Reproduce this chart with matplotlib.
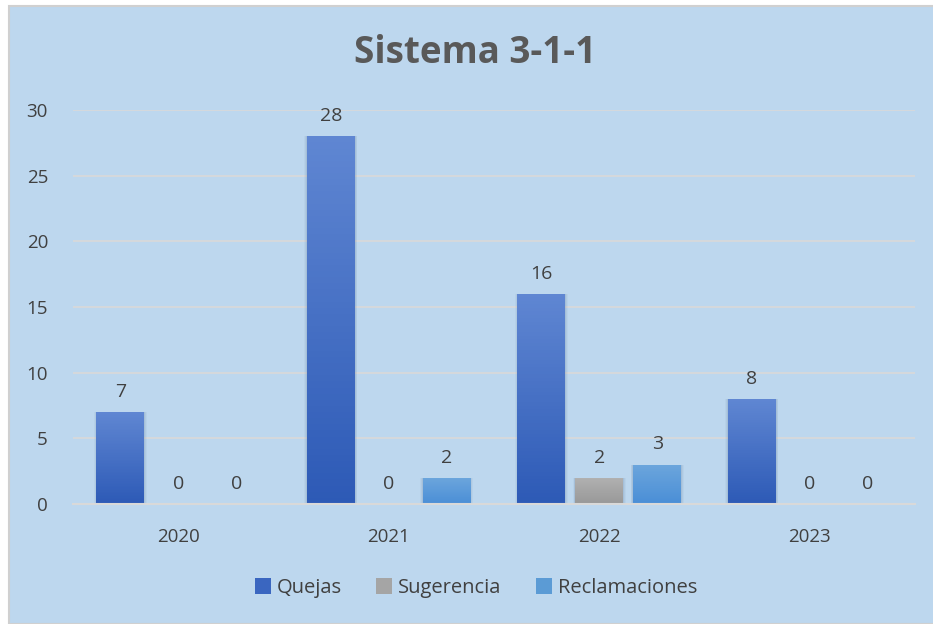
import numpy as np
import matplotlib.pyplot as plt
from matplotlib.patches import Rectangle
from matplotlib.colors import LinearSegmentedColormap

# Data
years = ["2020", "2021", "2022", "2023"]
quejas = [7, 28, 16, 8]
sugerencia = [0, 0, 2, 0]
reclamaciones = [0, 2, 3, 0]
series_names = ["Quejas", "Sugerencia", "Reclamaciones"]

# (top colour, bottom colour) for the vertical gradient of each series
grads = [("#5F86D2", "#2D5AB6"), ("#B0B0B0", "#989898"), ("#6BA5DC", "#4A8ED6")]
legend_cols = ["#3A66C0", "#A5A5A5", "#5B9BD5"]

bg = "#BDD7EE"
text_col = "#404040"
grid_col = "#D9D9D9"

plt.rcParams["font.family"] = ["Open Sans", "DejaVu Sans"]

fig = plt.figure(figsize=(9.33, 6.24), dpi=100)
fig.patch.set_facecolor("white")
# chart area background with thin gray border
frame = Rectangle((9 / 933, 0), 1.0, 1 - 6 / 624, transform=fig.transFigure,
                  facecolor=bg, edgecolor="#D0D0D0", linewidth=1.5, zorder=-10)
fig.add_artist(frame)

ax = fig.add_axes([73 / 933, 120 / 624, (915 - 73) / 933, (504 - 110) / 624])
ax.set_facecolor("none")

x = np.arange(len(years))
width = 0.228
step = 0.275
all_series = [quejas, sugerencia, reclamaciones]
n_slices = 60

for i, vals in enumerate(all_series):
    off = (i - 1) * step
    bars = ax.bar(x + off, vals, width, color=legend_cols[i], label=series_names[i],
                  linewidth=0, zorder=2)
    top, bot = grads[i]
    cmap = LinearSegmentedColormap.from_list("g%d" % i, [bot, top])
    for b, v in zip(bars, vals):
        if v > 0:
            # soft blurred shadow
            for k, a in [(0.012, 0.05), (0.008, 0.07), (0.004, 0.10)]:
                ax.add_patch(Rectangle((b.get_x() - k, 0), b.get_width() + 2 * k, v,
                                       facecolor="#506A8A", alpha=a, edgecolor="none", zorder=1.5))
            # vertical gradient fill, drawn as thin slices
            edges = np.linspace(0, v, n_slices + 1)
            cols = cmap(np.linspace(0, 1, n_slices))
            ax.bar(np.full(n_slices, b.get_x() + b.get_width() / 2), np.diff(edges), width,
                   bottom=edges[:-1], color=cols, linewidth=0, antialiased=False, zorder=2.5)
        ax.annotate(str(v), (b.get_x() + b.get_width() / 2, v), xytext=(0, 8),
                    textcoords="offset points", ha="center", va="bottom",
                    fontsize=14, color=text_col)

ax.set_xlim(-0.5, 3.5)
ax.set_ylim(0, 30)
ax.set_yticks(range(0, 31, 5))
ax.set_xticks(x)
ax.set_xticklabels(years)
ax.tick_params(axis="both", length=0, labelsize=13.5, labelcolor=text_col)
ax.tick_params(axis="x", pad=17)
ax.tick_params(axis="y", pad=18)
ax.yaxis.grid(True, color=grid_col, linewidth=1.2, zorder=0)
ax.set_axisbelow(True)
for s in ["top", "right", "left"]:
    ax.spines[s].set_visible(False)
ax.spines["bottom"].set_color(grid_col)
ax.spines["bottom"].set_linewidth(1.5)
ax.spines["bottom"].set_zorder(3)

fig.text(475 / 933, 1 - 53 / 624, "Sistema 3-1-1", ha="center", va="center",
         fontsize=26.5, fontweight="bold", color="#595959")

handles, labels = ax.get_legend_handles_labels()
leg = fig.legend(handles, labels, loc="center", bbox_to_anchor=(476 / 933, 1 - 588 / 624), ncol=3,
                 frameon=False, fontsize=14.5, handlelength=0.8, handleheight=0.8,
                 handletextpad=0.3, columnspacing=1.7, labelcolor=text_col)

fig.savefig("out.png", dpi=100, facecolor=fig.get_facecolor())
